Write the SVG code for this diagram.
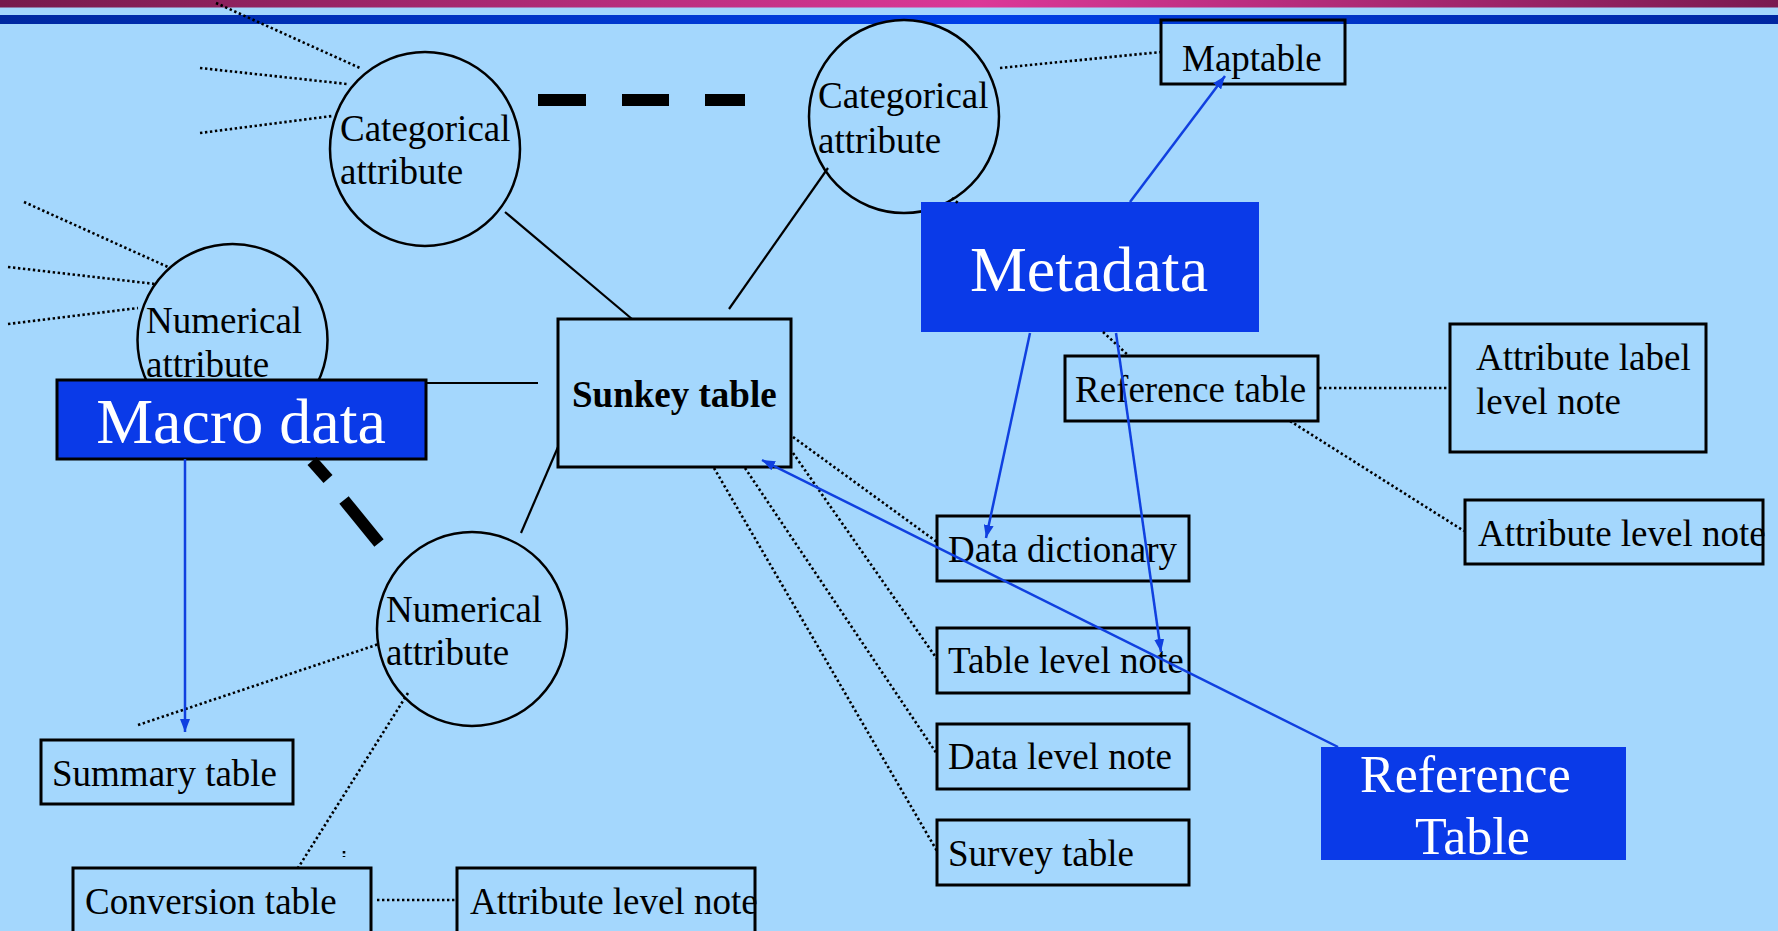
<svg xmlns="http://www.w3.org/2000/svg" width="1778" height="931" viewBox="0 0 1778 931">
<defs>
<linearGradient id="gPink" x1="0" y1="0" x2="1" y2="0">
<stop offset="0" stop-color="#761a4c"/>
<stop offset="0.55" stop-color="#dc3898"/>
<stop offset="1" stop-color="#7a1a50"/>
</linearGradient>
<linearGradient id="gBlue" x1="0" y1="0" x2="1" y2="0">
<stop offset="0" stop-color="#0028a0"/>
<stop offset="0.55" stop-color="#0040e8"/>
<stop offset="1" stop-color="#0026a0"/>
</linearGradient>
<marker id="arr" markerUnits="userSpaceOnUse" markerWidth="14" markerHeight="10" refX="13" refY="5" orient="auto">
<path d="M0,0 L13,5 L0,10 Z" fill="#1040e0"/>
</marker>
<style>
text{font-family:"Liberation Serif","Times New Roman",serif;fill:#000;}
.lbl{font-size:37px;}
.big{font-size:64px;fill:#fff;}
.mid{font-size:52px;fill:#fff;}
.circ{fill:#a4d7fd;stroke:#000;stroke-width:2.5;}
.box{fill:none;stroke:#000;stroke-width:3;}
.fill{fill:#0a3ae8;}
.solid{stroke:#000;stroke-width:2.2;fill:none;}
.dot{stroke:#000;stroke-width:2.6;stroke-dasharray:2.4 2.6;fill:none;}
.thick{stroke:#000;stroke-width:12;fill:none;}
.blue{stroke:#1040e0;stroke-width:2.5;fill:none;marker-end:url(#arr);}
</style>
</defs>
<rect x="0" y="0" width="1778" height="931" fill="#a4d7fd"/>
<rect x="0" y="0" width="1778" height="7.5" fill="url(#gPink)"/>
<rect x="0" y="15" width="1778" height="9" fill="url(#gBlue)"/>

<g id="cat1"><ellipse class="circ" cx="425" cy="149" rx="95" ry="97"/>
<text class="lbl" x="340" y="141">Categorical</text><text class="lbl" x="340" y="184">attribute</text></g>
<g id="cat2"><ellipse class="circ" cx="904" cy="116.5" rx="95" ry="96.5"/>
<text class="lbl" x="818" y="108">Categorical</text><text class="lbl" x="818" y="153">attribute</text></g>
<g id="num1"><ellipse class="circ" cx="232.5" cy="340" rx="95" ry="96"/>
<text class="lbl" x="146" y="333">Numerical</text><text class="lbl" x="146" y="377">attribute</text></g>
<g id="num2"><ellipse class="circ" cx="472" cy="629" rx="95" ry="97"/>
<text class="lbl" x="386" y="622">Numerical</text><text class="lbl" x="386" y="665">attribute</text></g>
<g id="macro"><rect x="57" y="380" width="369" height="79" class="fill" stroke="#000" stroke-width="3"/>
<text class="big" x="241" y="443" text-anchor="middle">Macro data</text></g>
<g id="metadata"><rect x="921" y="202" width="338" height="130" class="fill"/>
<text class="big" x="1089" y="291" text-anchor="middle">Metadata</text></g>
<g id="sunkey"><rect class="box" x="558" y="319" width="233" height="148"/>
<text class="lbl" x="572" y="407" font-weight="bold">Sunkey table</text></g>
<g id="maptable"><rect class="box" x="1161" y="20" width="184" height="64"/>
<text class="lbl" x="1182" y="71">Maptable</text></g>
<g id="reftable"><rect class="box" x="1065" y="356" width="253" height="65"/>
<text class="lbl" x="1075" y="402">Reference table</text></g>
<g id="attrlabel"><rect class="box" x="1450" y="324" width="256" height="128"/>
<text class="lbl" x="1476" y="370">Attribute label</text><text class="lbl" x="1476" y="414">level note</text></g>
<g id="attrlevel1"><rect class="box" x="1465" y="500" width="298" height="64"/>
<text class="lbl" x="1478" y="546">Attribute level note</text></g>
<g id="datadict"><rect class="box" x="937" y="516" width="252" height="65"/>
<text class="lbl" x="948" y="562">Data dictionary</text></g>
<g id="tablenote"><rect class="box" x="937" y="628" width="252" height="65"/>
<text class="lbl" x="948" y="673">Table level note</text></g>
<g id="datanote"><rect class="box" x="937" y="724" width="252" height="65"/>
<text class="lbl" x="948" y="769">Data level note</text></g>
<g id="survey"><rect class="box" x="937" y="820" width="252" height="65"/>
<text class="lbl" x="948" y="866">Survey table</text></g>
<g id="reftable2"><rect x="1321" y="747" width="305" height="113" class="fill"/>
<text class="mid" x="1360" y="792">Reference</text><text class="mid" x="1415" y="854">Table</text></g>
<g id="summary"><rect class="box" x="41" y="740" width="252" height="64"/>
<text class="lbl" x="52" y="786">Summary table</text></g>
<g id="conversion"><rect class="box" x="73" y="868" width="298" height="66"/>
<text class="lbl" x="85" y="914">Conversion table</text></g>
<g id="attrlevel2"><rect class="box" x="457" y="868" width="298" height="66"/>
<text class="lbl" x="470" y="914">Attribute level note</text></g>

<g id="connectors">
<line class="thick" x1="538" y1="100" x2="586" y2="100"/>
<line class="thick" x1="622" y1="100" x2="669" y2="100"/>
<line class="thick" x1="705" y1="100" x2="745" y2="100"/>
<line class="thick" x1="312" y1="461" x2="328" y2="479"/>
<line class="thick" x1="344" y1="500" x2="379" y2="543"/>
<line class="solid" x1="505" y1="212" x2="632" y2="319"/>
<line class="solid" x1="828" y1="168" x2="729" y2="309"/>
<line class="solid" x1="426" y1="383" x2="538" y2="383"/>
<line class="solid" x1="558" y1="447" x2="521" y2="533"/>
<line class="dot" x1="216" y1="3" x2="360" y2="68"/>
<line class="dot" x1="200" y1="68" x2="347" y2="84"/>
<line class="dot" x1="200" y1="133" x2="332" y2="116"/>
<line class="dot" x1="24" y1="202" x2="168" y2="267"/>
<line class="dot" x1="8" y1="267" x2="155" y2="284"/>
<line class="dot" x1="8" y1="324" x2="138" y2="308"/>
<line class="dot" x1="1000" y1="68" x2="1161" y2="52"/>
<line class="dot" x1="952" y1="198" x2="958" y2="203"/>
<line class="dot" x1="1103" y1="332" x2="1129" y2="356"/>
<line class="dot" x1="1319" y1="388" x2="1449" y2="388"/>
<line class="dot" x1="1290" y1="421" x2="1464" y2="531"/>
<line class="dot" x1="377" y1="900" x2="456" y2="900"/>
<line class="dot" x1="138" y1="725" x2="379" y2="644"/>
<line class="dot" x1="408" y1="693" x2="298" y2="868"/>
<line class="dot" x1="344" y1="851" x2="344" y2="857"/>
<line class="dot" x1="793" y1="437" x2="937" y2="542"/>
<line class="dot" x1="793" y1="453" x2="937" y2="659"/>
<line class="dot" x1="745" y1="468" x2="937" y2="754"/>
<line class="dot" x1="714" y1="468" x2="937" y2="851"/>
<line class="blue" x1="185" y1="459" x2="185" y2="732"/>
<line class="blue" x1="1130" y1="202" x2="1225" y2="76"/>
<line class="blue" x1="1030" y1="333" x2="986" y2="538"/>
<line class="blue" x1="1116" y1="333" x2="1161" y2="652"/>
<line class="blue" x1="1338" y1="747" x2="762" y2="460"/>
</g>
</svg>
